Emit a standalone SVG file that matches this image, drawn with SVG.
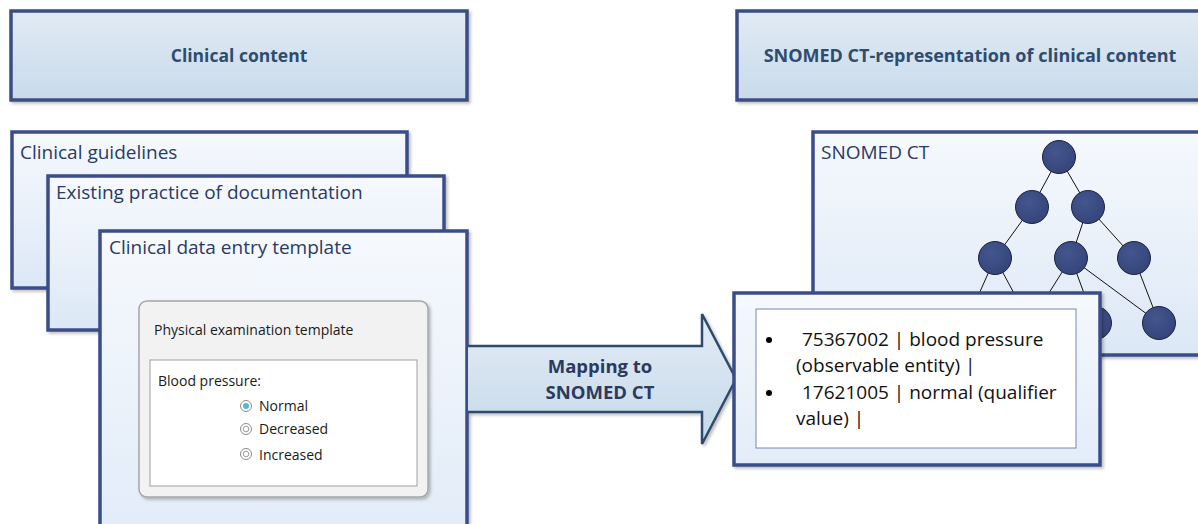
<svg xmlns="http://www.w3.org/2000/svg" width="1198" height="524" viewBox="0 0 1198 524">
<defs>
<linearGradient id="hdr" x1="0" y1="0" x2="0" y2="1"><stop offset="0" stop-color="#E1EBF5"/><stop offset="1" stop-color="#C8DAEA"/></linearGradient>
<linearGradient id="pane" x1="0" y1="0" x2="0" y2="1"><stop offset="0" stop-color="#F6F9FD"/><stop offset="1" stop-color="#DCE8F6"/></linearGradient>
<linearGradient id="pane2" x1="0" y1="0" x2="0" y2="1"><stop offset="0" stop-color="#F6F9FD"/><stop offset="1" stop-color="#E2ECF8"/></linearGradient>
<linearGradient id="arr" x1="0" y1="0" x2="0" y2="1"><stop offset="0" stop-color="#E3ECF5"/><stop offset="1" stop-color="#C6D8E9"/></linearGradient>
<radialGradient id="node" cx="0.4" cy="0.35" r="0.7"><stop offset="0" stop-color="#43568D"/><stop offset="1" stop-color="#34447A"/></radialGradient>
<filter id="sh" x="-5%" y="-5%" width="115%" height="120%"><feDropShadow dx="2" dy="2" stdDeviation="1.5" flood-color="#000" flood-opacity="0.25"/></filter>
</defs>
<style>
.box{stroke:#3B4E88;stroke-width:3.5;filter:url(#sh)}
.hdr{fill:url(#hdr)}
.pane{fill:url(#pane)}
.t{font-family:"Open Sans","Liberation Sans",sans-serif;fill:#2A3A66}
.hb{font-family:"Open Sans","Liberation Sans",sans-serif;font-weight:bold;font-size:17.5px;fill:#2E4C6E}
.lbl{font-size:19px}
.sm{font-family:"Open Sans","Liberation Sans",sans-serif;font-size:14px;fill:#1A1A1A}
.bl{font-family:"Open Sans","Liberation Sans",sans-serif;font-size:19px;fill:#111}
.at{font-family:"Open Sans","Liberation Sans",sans-serif;font-weight:bold;font-size:18.5px;fill:#2B3A5E}
.edge{stroke:#111;stroke-width:1}
.nd{fill:url(#node);stroke:#1B2440;stroke-width:1}
.rb{fill:#FFFFFF;stroke:#8C8C8C;stroke-width:1}
.ri{fill:none;stroke:#9A9A9A;stroke-width:1}
</style>

<g id="header-clinical">
<rect class="box hdr" x="11" y="11" width="456" height="89"/>
<text class="hb" x="239" y="62" text-anchor="middle">Clinical content</text>
</g>
<g id="header-snomed">
<rect class="box hdr" x="737" y="11" width="470" height="89"/>
<text class="hb" x="970" y="62" text-anchor="middle" style="font-size:18px">SNOMED CT-representation of clinical content</text>
</g>

<g id="clinical-guidelines">
<rect class="box pane" x="12" y="132" width="395" height="156"/>
<text class="t lbl" x="20" y="159">Clinical guidelines</text>
</g>
<g id="existing-practice">
<rect class="box pane" x="48" y="176" width="396" height="154"/>
<text class="t lbl" x="56" y="199">Existing practice of documentation</text>
</g>
<g id="data-entry-template">
<rect class="box" fill="url(#pane2)" x="100" y="231" width="367" height="300"/>
<text class="t lbl" x="109" y="254">Clinical data entry template</text>
<g id="physical-exam-template">
<rect x="139" y="301" width="289" height="196" rx="8" fill="#F2F2F2" stroke="#A6A6A6" stroke-width="1.5" filter="url(#sh)"/>
<text class="sm" x="154" y="335">Physical examination template</text>
<rect x="150" y="360" width="267" height="126" fill="#FFFFFF" stroke="#A0A0A0" stroke-width="1"/>
<text class="sm" x="158" y="386">Blood pressure:</text>
<circle class="rb" cx="246" cy="406" r="5.5"/>
<circle cx="246" cy="406" r="3" fill="#4FB8D8"/>
<circle class="rb" cx="246" cy="429" r="5.5"/>
<circle class="ri" cx="246" cy="429" r="2.8"/>
<circle class="rb" cx="246" cy="454" r="5.5"/>
<circle class="ri" cx="246" cy="454" r="2.8"/>
<text class="sm" x="259" y="411">Normal</text>
<text class="sm" x="259" y="434">Decreased</text>
<text class="sm" x="259" y="460">Increased</text>
</g>
</g>

<g id="snomed-ct">
<rect class="box pane" x="813" y="132" width="400" height="223"/>
<text class="t lbl" x="821" y="159">SNOMED CT</text>
<g id="tree-edges">
<line class="edge" x1="1059" y1="157" x2="1032" y2="207"/>
<line class="edge" x1="1059" y1="157" x2="1088" y2="207"/>
<line class="edge" x1="1032" y1="207" x2="995" y2="258"/>
<line class="edge" x1="1088" y1="207" x2="1071" y2="258"/>
<line class="edge" x1="1088" y1="207" x2="1134" y2="258"/>
<line class="edge" x1="995" y1="258" x2="966" y2="323"/>
<line class="edge" x1="995" y1="258" x2="1030" y2="323"/>
<line class="edge" x1="1071" y1="258" x2="1030" y2="323"/>
<line class="edge" x1="1071" y1="258" x2="1095" y2="323"/>
<line class="edge" x1="1071" y1="258" x2="1159" y2="323"/>
<line class="edge" x1="1134" y1="258" x2="1159" y2="323"/>
</g>
<g id="tree-nodes">
<circle class="nd" cx="1059" cy="157" r="16.5"/>
<circle class="nd" cx="1032" cy="207" r="16.5"/>
<circle class="nd" cx="1088" cy="207" r="16.5"/>
<circle class="nd" cx="995" cy="258" r="16.5"/>
<circle class="nd" cx="1071" cy="258" r="16.5"/>
<circle class="nd" cx="1134" cy="258" r="16.5"/>
<circle class="nd" cx="966" cy="323" r="16.5"/>
<circle class="nd" cx="1030" cy="323" r="16.5"/>
<circle class="nd" cx="1095" cy="323" r="16.5"/>
<circle class="nd" cx="1159" cy="323" r="16.5"/>
</g>
</g>

<g id="connectors">
<path d="M468 346 L702 346 L702 314 L736 379 L702 444 L702 412 L468 412" fill="url(#arr)" stroke="#2E4C6E" stroke-width="2.5" stroke-linejoin="miter" filter="url(#sh)"/>
<text class="at" x="600" y="373" text-anchor="middle">Mapping to</text>
<text class="at" x="600" y="399" text-anchor="middle">SNOMED CT</text>
</g>

<g id="snomed-representation">
<rect class="box" fill="url(#pane2)" x="734" y="293" width="366" height="172"/>
<rect x="756" y="309" width="320" height="139" fill="#FFFFFF" stroke="#7888AE" stroke-width="1"/>
<circle cx="769" cy="340" r="3" fill="#000"/>
<circle cx="769" cy="393" r="3" fill="#000"/>
<text class="bl" x="802" y="346">75367002 | blood pressure</text>
<text class="bl" x="796" y="372">(observable entity) |</text>
<text class="bl" x="802" y="399">17621005 | normal (qualifier</text>
<text class="bl" x="796" y="425">value) |</text>
</g>
</svg>
